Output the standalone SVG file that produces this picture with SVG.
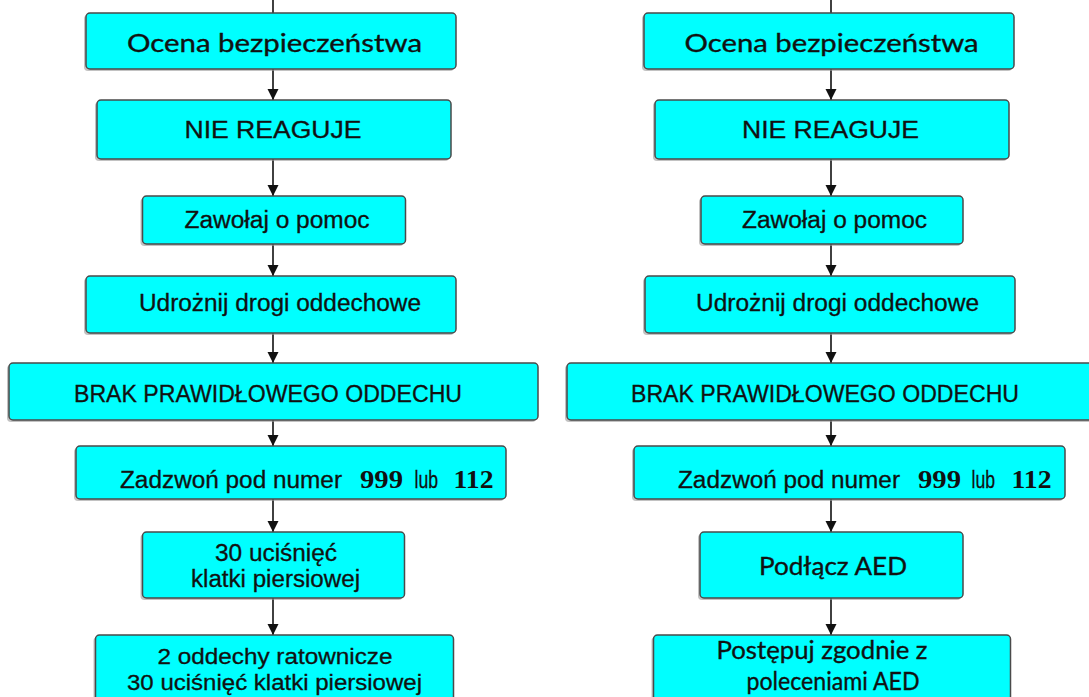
<svg xmlns="http://www.w3.org/2000/svg" width="1089" height="697" viewBox="0 0 1089 697">
<defs>
<style>
.box{fill:#00FFFF;stroke:#4a4a4a;stroke-width:1.5}
.sh{fill:#9a9a9a;opacity:0.6}
.a{font-family:"Liberation Sans",Arial,sans-serif;font-size:23px;fill:#111;stroke:#111;stroke-width:0.3}
.b{font-family:"Liberation Sans",Arial,sans-serif;font-size:22px;fill:#111;stroke:#111;stroke-width:0.3}
.h{font-family:Lato,"Open Sans",sans-serif;font-size:25px;fill:#111;stroke:#111;stroke-width:0.35}
.n{font-family:"Liberation Serif","Times New Roman",serif;font-size:25px;font-weight:bold;fill:#111}
.c{stroke:#111;stroke-width:1.6;fill:none}
</style>
<marker id="ah" viewBox="0 0 10 10" refX="10" refY="5" markerWidth="11" markerHeight="12" markerUnits="userSpaceOnUse" orient="auto">
<path d="M0,0 L10,5 L0,10 z" fill="#111"/>
</marker>
</defs>
<rect width="1089" height="697" fill="#ffffff"/>

<g id="connectors">
<line class="c" x1="273" y1="0" x2="273" y2="13"/>
<line class="c" x1="273" y1="69" x2="273" y2="100" marker-end="url(#ah)"/>
<line class="c" x1="273" y1="159" x2="273" y2="196" marker-end="url(#ah)"/>
<line class="c" x1="273" y1="244" x2="273" y2="276" marker-end="url(#ah)"/>
<line class="c" x1="273" y1="333" x2="273" y2="363" marker-end="url(#ah)"/>
<line class="c" x1="273" y1="420" x2="273" y2="446" marker-end="url(#ah)"/>
<line class="c" x1="273" y1="499" x2="273" y2="532" marker-end="url(#ah)"/>
<line class="c" x1="273" y1="598" x2="273" y2="635" marker-end="url(#ah)"/>
<line class="c" x1="831" y1="0" x2="831" y2="13"/>
<line class="c" x1="831" y1="69" x2="831" y2="100" marker-end="url(#ah)"/>
<line class="c" x1="831" y1="159" x2="831" y2="196" marker-end="url(#ah)"/>
<line class="c" x1="831" y1="244" x2="831" y2="276" marker-end="url(#ah)"/>
<line class="c" x1="831" y1="333" x2="831" y2="363" marker-end="url(#ah)"/>
<line class="c" x1="831" y1="420" x2="831" y2="446" marker-end="url(#ah)"/>
<line class="c" x1="831" y1="499" x2="831" y2="532" marker-end="url(#ah)"/>
<line class="c" x1="831" y1="598" x2="831" y2="635" marker-end="url(#ah)"/>
</g>

<!-- Left column -->
<g id="L1">
<rect class="sh" x="84" y="15" width="370" height="56" rx="4"/>
<rect class="box" x="86" y="13" width="370" height="56" rx="4"/>
<text class="h" x="274.5" y="52" text-anchor="middle" textLength="295" lengthAdjust="spacingAndGlyphs">Ocena bezpieczeństwa</text>
</g>
<g id="L2">
<rect class="sh" x="95" y="102" width="354" height="59" rx="4"/>
<rect class="box" x="97" y="100" width="354" height="59" rx="4"/>
<text class="a" x="273" y="138" text-anchor="middle" textLength="177" lengthAdjust="spacingAndGlyphs">NIE REAGUJE</text>
</g>
<g id="L3">
<rect class="sh" x="140.5" y="198" width="263" height="48" rx="4"/>
<rect class="box" x="142.5" y="196" width="263" height="48" rx="4"/>
<text class="a" x="277" y="228" text-anchor="middle" textLength="185" lengthAdjust="spacingAndGlyphs">Zawołaj o pomoc</text>
</g>
<g id="L4">
<rect class="sh" x="84" y="278" width="370" height="57" rx="4"/>
<rect class="box" x="86" y="276" width="370" height="57" rx="4"/>
<text class="a" x="280" y="311" text-anchor="middle" textLength="282" lengthAdjust="spacingAndGlyphs">Udrożnij drogi oddechowe</text>
</g>
<g id="L5">
<rect class="sh" x="7" y="365" width="529" height="57" rx="4"/>
<rect class="box" x="9" y="363" width="529" height="57" rx="4"/>
<text class="a" x="268" y="402" text-anchor="middle" textLength="388" lengthAdjust="spacingAndGlyphs">BRAK PRAWIDŁOWEGO ODDECHU</text>
</g>
<g id="L6">
<rect class="sh" x="74" y="448" width="430" height="53" rx="4"/>
<rect class="box" x="76" y="446" width="430" height="53" rx="4"/>
<text class="a" x="120" y="488" textLength="222" lengthAdjust="spacingAndGlyphs">Zadzwoń pod numer</text>
<text class="n" x="360" y="488" textLength="43" lengthAdjust="spacingAndGlyphs">999</text>
<text class="a" x="414.5" y="488" textLength="23.5" lengthAdjust="spacingAndGlyphs">lub</text>
<text class="n" x="453.5" y="488" textLength="40" lengthAdjust="spacingAndGlyphs">112</text>
</g>
<g id="L7">
<rect class="sh" x="140.5" y="534" width="262" height="66" rx="4"/>
<rect class="box" x="142.5" y="532" width="262" height="66" rx="4"/>
<text class="a" x="276" y="561" text-anchor="middle" textLength="122" lengthAdjust="spacingAndGlyphs">30 uciśnięć</text>
<text class="a" x="275.5" y="587" text-anchor="middle" textLength="169" lengthAdjust="spacingAndGlyphs">klatki piersiowej</text>
</g>
<g id="L8">
<rect class="sh" x="93.5" y="637" width="358" height="70" rx="4"/>
<rect class="box" x="95.5" y="635" width="358" height="70" rx="4"/>
<text class="b" x="275" y="664" text-anchor="middle" textLength="235" lengthAdjust="spacingAndGlyphs">2 oddechy ratownicze</text>
<text class="b" x="274.5" y="690" text-anchor="middle" textLength="295" lengthAdjust="spacingAndGlyphs">30 uciśnięć klatki piersiowej</text>
</g>

<!-- Right column -->
<g id="R1">
<rect class="sh" x="642" y="15" width="370" height="56" rx="4"/>
<rect class="box" x="644" y="13" width="370" height="56" rx="4"/>
<text class="h" x="831.5" y="52" text-anchor="middle" textLength="294" lengthAdjust="spacingAndGlyphs">Ocena bezpieczeństwa</text>
</g>
<g id="R2">
<rect class="sh" x="653" y="102" width="354" height="59" rx="4"/>
<rect class="box" x="655" y="100" width="354" height="59" rx="4"/>
<text class="a" x="830.5" y="138" text-anchor="middle" textLength="177" lengthAdjust="spacingAndGlyphs">NIE REAGUJE</text>
</g>
<g id="R3">
<rect class="sh" x="699" y="198" width="262" height="48" rx="4"/>
<rect class="box" x="701" y="196" width="262" height="48" rx="4"/>
<text class="a" x="834.5" y="228" text-anchor="middle" textLength="185" lengthAdjust="spacingAndGlyphs">Zawołaj o pomoc</text>
</g>
<g id="R4">
<rect class="sh" x="643" y="278" width="370" height="57" rx="4"/>
<rect class="box" x="645" y="276" width="370" height="57" rx="4"/>
<text class="a" x="837.5" y="311" text-anchor="middle" textLength="283" lengthAdjust="spacingAndGlyphs">Udrożnij drogi oddechowe</text>
</g>
<g id="R5">
<rect class="sh" x="565" y="365" width="540" height="57" rx="4"/>
<rect class="box" x="567" y="363" width="540" height="57" rx="4"/>
<text class="a" x="825" y="402" text-anchor="middle" textLength="388" lengthAdjust="spacingAndGlyphs">BRAK PRAWIDŁOWEGO ODDECHU</text>
</g>
<g id="R6">
<rect class="sh" x="632" y="448" width="431" height="53" rx="4"/>
<rect class="box" x="634" y="446" width="431" height="53" rx="4"/>
<text class="a" x="678" y="488" textLength="222" lengthAdjust="spacingAndGlyphs">Zadzwoń pod numer</text>
<text class="n" x="918" y="488" textLength="43" lengthAdjust="spacingAndGlyphs">999</text>
<text class="a" x="971.5" y="488" textLength="23.5" lengthAdjust="spacingAndGlyphs">lub</text>
<text class="n" x="1011.5" y="488" textLength="40" lengthAdjust="spacingAndGlyphs">112</text>
</g>
<g id="R7">
<rect class="sh" x="698" y="534" width="263" height="66" rx="4"/>
<rect class="box" x="700" y="532" width="263" height="66" rx="4"/>
<text class="h" x="833" y="575" text-anchor="middle" textLength="148" lengthAdjust="spacingAndGlyphs">Podłącz AED</text>
</g>
<g id="R8">
<rect class="sh" x="651.5" y="637" width="357" height="70" rx="4"/>
<rect class="box" x="653.5" y="635" width="357" height="70" rx="4"/>
<text class="h" x="822" y="659" text-anchor="middle" textLength="211" lengthAdjust="spacingAndGlyphs">Postępuj zgodnie z</text>
<text class="h" x="833" y="690" text-anchor="middle" textLength="173" lengthAdjust="spacingAndGlyphs">poleceniami AED</text>
</g>
</svg>
